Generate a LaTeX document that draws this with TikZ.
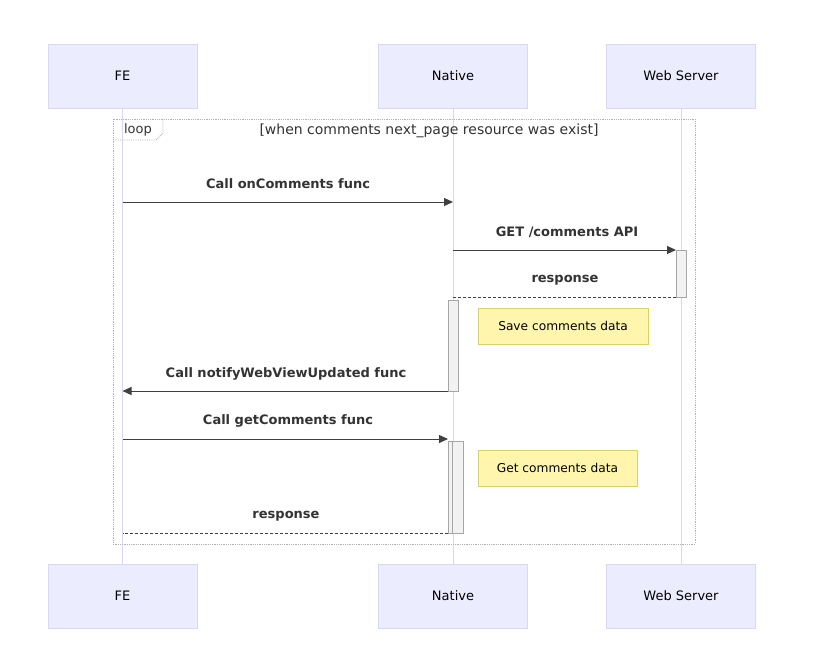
\documentclass[tikz,border=0pt]{standalone}
\usepackage{fontspec}
\setmainfont{DejaVu Sans}
\usetikzlibrary{arrows.meta}
\definecolor{actf}{HTML}{ECECFF}
\definecolor{actd}{HTML}{D8D8F5}
\definecolor{notef}{HTML}{FFF5AD}
\definecolor{noted}{HTML}{D6D26E}
\begin{document}
\begin{tikzpicture}[x=1pt,y=-1pt,
 actor/.style={draw=actd,fill=actf,minimum width=149pt,minimum height=64pt,font=\fontsize{13}{15}\selectfont,inner sep=0},
 life/.style={draw=actd,line width=0.8pt},
 msg/.style={draw=black!75,line width=1pt,-{Triangle[length=9pt,width=8pt]}},
 rmsg/.style={draw=black!75,line width=1pt,dash pattern=on 3pt off 2pt},
 lbl/.style={font=\bfseries\fontsize{13}{15}\selectfont,text=black!80},
 act/.style={draw=black!35,fill=black!5,line width=0.8pt},
 note/.style={draw=noted,fill=notef,inner sep=0,font=\fontsize{12.2}{14}\selectfont}]
\useasboundingbox (0,0) rectangle (813,664);
\fill[white] (0,0) rectangle (813,664);
\foreach \n/\x/\t in {fe/122.5/FE,na/453/Native,ws/681/Web Server}{
 \draw[life] (\x,108) -- (\x,564);
 \node[actor] (\n t) at (\x,76) {\t};
 \node[actor] (\n b) at (\x,596) {\t};
}
\draw[black!30,densely dotted,line width=0.8pt] (113,119) rectangle (695,544);
\draw[black!30,densely dotted,line width=0.8pt] (113,140) -- (156,140) -- (163,133) -- (163,119);
\node[font=\fontsize{13}{15}\selectfont,text=black!80] (lp) at (138,130) {loop};
\node[font=\fontsize{14}{16}\selectfont,text=black!80] (lt) at (429,131) {[when comments next\_page resource was exist]};
\coordinate (a1) at (122.5,202); \coordinate (b1) at (453,202);
\draw[msg] (a1) -- (b1);
\node[lbl] (l1) at (288,184) {Call onComments func};
\draw[act] (676,250) rectangle (686,297);
\coordinate (a2) at (453,250); \coordinate (b2) at (676,250);
\draw[msg] (a2) -- (b2);
\node[lbl] (l2) at (567,232) {GET /comments API};
\coordinate (a3) at (676,297); \coordinate (b3) at (453,297);
\draw[rmsg] (a3) -- (b3);
\node[lbl] (l3) at (565,280) {response};
\draw[act] (448,300) rectangle (458,391);
\node[note,minimum width=170pt,minimum height=36pt] (n1) at (563,326) {Save comments data};
\coordinate (a4) at (448,391); \coordinate (b4) at (122.5,391);
\draw[msg] (a4) -- (b4);
\node[lbl] (l4) at (286,374) {Call notifyWebViewUpdated func};
\coordinate (a5) at (122.5,439); \coordinate (b5) at (448,439);
\draw[msg] (a5) -- (b5);
\node[lbl] (l5) at (288,421) {Call getComments func};
\draw[act] (448,441) rectangle (459,533);
\draw[act] (452,441) rectangle (463,533);
\node[note,minimum width=159pt,minimum height=36pt] (n2) at (557.5,468) {Get comments data};
\coordinate (a6) at (448,533); \coordinate (b6) at (122.5,533);
\draw[rmsg] (a6) -- (b6);
\node[lbl] (l6) at (286,516) {response};
\end{tikzpicture}
\end{document}
